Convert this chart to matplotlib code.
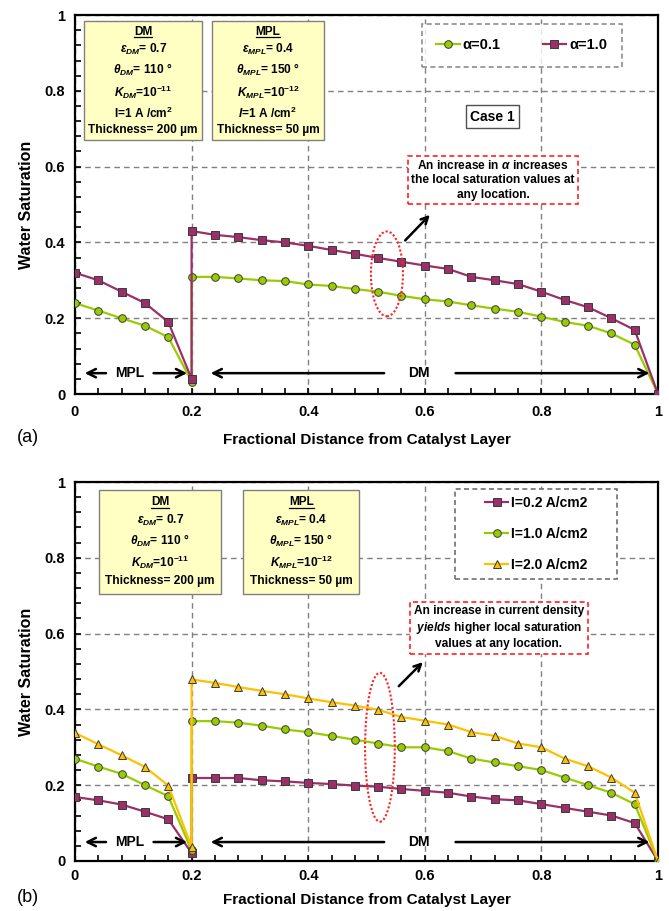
import matplotlib
matplotlib.use("Agg")
import matplotlib.pyplot as plt
from matplotlib.patches import Ellipse, Rectangle
from matplotlib.lines import Line2D
from matplotlib.ticker import MultipleLocator, FuncFormatter

plt.rcParams['font.family'] = ['Liberation Sans', 'DejaVu Sans']
plt.rcParams['font.weight'] = 'bold'
plt.rcParams['axes.labelweight'] = 'bold'
plt.rcParams['mathtext.fontset'] = 'custom'
plt.rcParams['mathtext.rm'] = 'Liberation Sans:bold'
plt.rcParams['mathtext.bf'] = 'Liberation Sans:bold'
plt.rcParams['mathtext.it'] = 'Liberation Sans:italic:bold'

# distance through MPL (0-0.2) and DM (0.2-1), the interface appears twice
x_pos = [0.0, 0.04, 0.08, 0.12, 0.16, 0.2, 0.2, 0.24, 0.28, 0.32, 0.36, 0.40, 0.44,
         0.48, 0.52, 0.56, 0.60, 0.64, 0.68, 0.72, 0.76, 0.80, 0.84, 0.88, 0.92, 0.96, 1.0]

# case (a): effect of alpha
sat_alpha_01 = [0.24, 0.22, 0.20, 0.18, 0.15, 0.033, 0.309, 0.309, 0.305, 0.30, 0.298,
                0.289, 0.285, 0.277, 0.27, 0.259, 0.25, 0.244, 0.234, 0.225, 0.217,
                0.204, 0.19, 0.18, 0.16, 0.13, 0.0]
sat_alpha_10 = [0.32, 0.30, 0.27, 0.24, 0.19, 0.04, 0.43, 0.42, 0.414, 0.406, 0.40,
                0.391, 0.38, 0.37, 0.359, 0.349, 0.339, 0.33, 0.309, 0.30, 0.29,
                0.27, 0.248, 0.229, 0.20, 0.169, 0.0]

# case (b): effect of current density
sat_i02 = [0.169, 0.16, 0.149, 0.13, 0.11, 0.021, 0.219, 0.219, 0.219, 0.213, 0.21,
           0.206, 0.203, 0.199, 0.196, 0.19, 0.185, 0.18, 0.17, 0.163, 0.16,
           0.15, 0.14, 0.13, 0.12, 0.10, 0.0]
sat_i10 = [0.27, 0.249, 0.23, 0.20, 0.171, 0.028, 0.369, 0.369, 0.365, 0.357, 0.347,
           0.34, 0.33, 0.32, 0.31, 0.30, 0.30, 0.29, 0.27, 0.26, 0.25,
           0.24, 0.22, 0.20, 0.18, 0.15, 0.0]
sat_i20 = [0.338, 0.308, 0.279, 0.248, 0.199, 0.037, 0.479, 0.47, 0.459, 0.449, 0.44,
           0.429, 0.419, 0.41, 0.399, 0.38, 0.37, 0.36, 0.34, 0.33, 0.31,
           0.30, 0.27, 0.25, 0.22, 0.18, 0.0]

PURPLE = '#9B3068'
GREEN = '#99CC00'
GOLD = '#FFC000'
EDGE = '#3a3a3a'

fig = plt.figure(figsize=(6.69, 9.11), dpi=100)
ax_a = fig.add_axes([0.1121, 0.5675, 0.8715, 0.416])
ax_b = fig.add_axes([0.1121, 0.0549, 0.8715, 0.416])

# (body text, header probe, header string) for every parameter box
param_boxes = []


def fmt_tick(v, pos):
    if abs(v) < 1e-9:
        return '0'
    if abs(v - 1) < 1e-9:
        return '1'
    return f'{v:.1f}'


def setup_axes(ax, xpad, labelpad):
    ax.set_xlim(0, 1)
    ax.set_ylim(0, 1)
    for s in ax.spines.values():
        s.set_linewidth(1.6)
        s.set_color('black')
    ax.xaxis.set_major_locator(MultipleLocator(0.2))
    ax.yaxis.set_major_locator(MultipleLocator(0.2))
    ax.xaxis.set_minor_locator(MultipleLocator(0.04))
    ax.yaxis.set_minor_locator(MultipleLocator(0.04))
    ax.xaxis.set_major_formatter(FuncFormatter(fmt_tick))
    ax.yaxis.set_major_formatter(FuncFormatter(fmt_tick))
    ax.tick_params(which='both', direction='in', length=4, width=1.2)
    ax.tick_params(axis='x', pad=xpad, labelsize=10.5)
    ax.tick_params(axis='y', pad=7, labelsize=10.5)
    ax.grid(True, which='major', linestyle=(0, (4, 3)), color='#808080', linewidth=1)
    ax.set_axisbelow(True)
    ax.set_xlabel('Fractional Distance from Catalyst Layer', fontsize=11,
                  labelpad=labelpad)
    ax.set_ylabel('Water Saturation', fontsize=11.5, labelpad=8)


def region_arrows(ax, y):
    arw = dict(arrowstyle='->,head_length=0.6,head_width=0.3', lw=1.8, color='black')
    ax.annotate('', xy=(0.012, y), xytext=(0.058, y), arrowprops=arw)
    ax.annotate('', xy=(0.197, y), xytext=(0.13, y), arrowprops=arw)
    ax.text(0.094, y, 'MPL', ha='center', va='center', fontsize=10)
    ax.annotate('', xy=(0.228, y), xytext=(0.535, y), arrowprops=arw)
    ax.annotate('', xy=(0.99, y), xytext=(0.648, y), arrowprops=arw)
    ax.text(0.59, y, 'DM', ha='center', va='center', fontsize=10)


def param_box(ax, x, y, title, lines, pad):
    body = ax.text(x, y, '\n'.join([title] + lines), transform=ax.transAxes,
                   ha='center', va='top', fontsize=8.6, linespacing=1.4, zorder=6,
                   bbox=dict(boxstyle=f'square,pad={pad}', facecolor='#FFFFC4',
                             edgecolor='#808080', linewidth=1))
    # header alone at the same spot, only used to measure the underline
    probe = ax.text(x, y, title, transform=ax.transAxes, ha='center', va='top',
                    fontsize=8.6)
    param_boxes.append(probe)


def note_box(ax, x, y, text):
    ax.text(x, y, text, transform=ax.transAxes, ha='center', va='center', fontsize=8.6,
            linespacing=1.25, zorder=6,
            bbox=dict(boxstyle='square,pad=0.3', facecolor='white',
                      edgecolor='#FF2020', linewidth=1.2, linestyle=(0, (3, 2))))


def style_legend(leg):
    frame = leg.get_frame()
    frame.set_linestyle((0, (3, 2)))
    frame.set_edgecolor('#707070')
    frame.set_linewidth(1.2)


dm_a = ['$\\varepsilon_{\\mathit{DM}}$= 0.7',
        '$\\theta_{\\mathit{DM}}$= 110 \u00b0',
        '$\\mathit{K}_{\\mathit{DM}}$=10$^{-11}$',
        'I=1 A /cm$^{2}$',
        'Thickness= 200 \u00b5m']
mpl_a = ['$\\varepsilon_{\\mathit{MPL}}$= 0.4',
         '$\\theta_{\\mathit{MPL}}$= 150 \u00b0',
         '$\\mathit{K}_{\\mathit{MPL}}$=10$^{-12}$',
         '$\\mathit{I}$=1 A /cm$^{2}$',
         'Thickness= 50 \u00b5m']
dm_b = ['$\\varepsilon_{\\mathit{DM}}$= 0.7',
        '$\\theta_{\\mathit{DM}}$= 110 \u00b0',
        '$\\mathit{K}_{\\mathit{DM}}$=10$^{-11}$',
        'Thickness= 200 \u00b5m']
mpl_b = ['$\\varepsilon_{\\mathit{MPL}}$= 0.4',
         '$\\theta_{\\mathit{MPL}}$= 150 \u00b0',
         '$\\mathit{K}_{\\mathit{MPL}}$=10$^{-12}$',
         'Thickness= 50 \u00b5m']

# ---- panel (a)
setup_axes(ax_a, xpad=8, labelpad=10)
ax_a.plot(x_pos, sat_alpha_01, '-o', color=GREEN, lw=1.6, ms=5.5, mfc=GREEN,
          mec=EDGE, mew=0.7, label='\u03b1=0.1', zorder=3)
ax_a.plot(x_pos, sat_alpha_10, '-s', color=PURPLE, lw=1.6, ms=5.5, mfc=PURPLE,
          mec=EDGE, mew=0.7, label='\u03b1=1.0', zorder=4)
leg = ax_a.legend(loc='center', bbox_to_anchor=(0.766, 0.92), ncol=2, fontsize=10.5,
                  frameon=True, fancybox=False, handlelength=1.6, columnspacing=2.9,
                  borderpad=1.0, handletextpad=0.2)
style_legend(leg)
param_box(ax_a, 0.117, 0.972, 'DM', dm_a, 0.35)
param_box(ax_a, 0.331, 0.972, 'MPL', mpl_a, 0.35)
ax_a.text(0.716, 0.732, 'Case 1', transform=ax_a.transAxes, ha='center', va='center',
          fontsize=10, zorder=6,
          bbox=dict(boxstyle='square,pad=0.3', facecolor='white', edgecolor='#505050', lw=1))
note_box(ax_a, 0.717, 0.565,
         'An increase in $\\alpha$ increases\nthe local saturation values at\nany location.')
ax_a.add_patch(Ellipse((0.535, 0.317), 0.055, 0.224, fill=False, edgecolor='#FF2020',
                       linestyle=(0, (1, 1)), lw=1.5, zorder=5))
ax_a.annotate('', xy=(0.612, 0.478), xytext=(0.563, 0.40),
              arrowprops=dict(arrowstyle='->,head_length=0.5,head_width=0.25', lw=1.8,
                              color='black'))
region_arrows(ax_a, 0.055)

# ---- panel (b)
setup_axes(ax_b, xpad=6, labelpad=7)
ax_b.plot(x_pos, sat_i02, '-s', color=PURPLE, lw=1.6, ms=5.5, mfc=PURPLE,
          mec=EDGE, mew=0.7, label='I=0.2 A/cm2', zorder=3)
ax_b.plot(x_pos, sat_i10, '-o', color=GREEN, lw=1.6, ms=5.5, mfc=GREEN,
          mec=EDGE, mew=0.7, label='I=1.0 A/cm2', zorder=4)
ax_b.plot(x_pos, sat_i20, '-^', color=GOLD, lw=1.6, ms=6, mfc=GOLD,
          mec=EDGE, mew=0.7, label='I=2.0 A/cm2', zorder=5)
leg = ax_b.legend(loc='center', bbox_to_anchor=(0.791, 0.863), ncol=1, fontsize=10,
                  frameon=False, handlelength=1.7, labelspacing=1.2,
                  borderpad=0.6, handletextpad=0.2)
leg.set_zorder(8)
# wide dashed frame behind the legend entries
ax_b.add_patch(Rectangle((0.652, 0.744), 0.278, 0.238, transform=ax_b.transAxes,
                         facecolor='white', edgecolor='#707070', lw=1.2,
                         linestyle=(0, (3, 2)), zorder=7))
param_box(ax_b, 0.146, 0.962, 'DM', dm_b, 0.55)
param_box(ax_b, 0.388, 0.962, 'MPL', mpl_b, 0.55)
note_box(ax_b, 0.727, 0.615,
         'An increase in current density\n$\\mathit{yields}$ higher local saturation\n'
         'values at any location.')
ax_b.add_patch(Ellipse((0.523, 0.30), 0.051, 0.393, fill=False, edgecolor='#FF2020',
                       linestyle=(0, (1, 1)), lw=1.5, zorder=6))
ax_b.annotate('', xy=(0.60, 0.53), xytext=(0.552, 0.456),
              arrowprops=dict(arrowstyle='->,head_length=0.5,head_width=0.25', lw=1.8,
                              color='black'))
region_arrows(ax_b, 0.05)

fig.text(17 / 669, 1 - 438 / 911, '(a)', fontsize=13, fontweight='normal', va='center')
fig.text(17 / 669, 1 - 898 / 911, '(b)', fontsize=13, fontweight='normal', va='center')

# underline the box headers, measured from the probe texts which are then dropped
fig.canvas.draw()
renderer = fig.canvas.get_renderer()
for probe in param_boxes:
    bb = probe.get_window_extent(renderer)
    probe.remove()
    y0 = bb.y0 + 0.5
    fig.add_artist(Line2D([bb.x0 / fig.bbox.width, bb.x1 / fig.bbox.width],
                          [y0 / fig.bbox.height, y0 / fig.bbox.height],
                          color='black', lw=0.9, zorder=8))

fig.savefig('out.png', dpi=100)
